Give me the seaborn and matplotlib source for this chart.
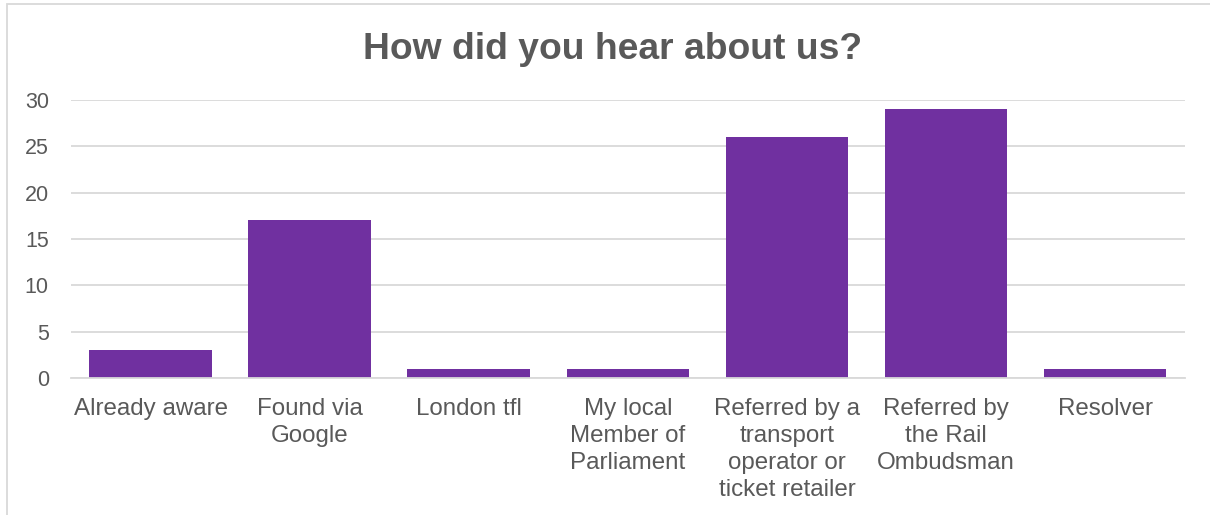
import matplotlib
matplotlib.use("Agg")
import matplotlib.pyplot as plt
import seaborn as sns
import pandas as pd
from matplotlib.patches import Rectangle

categories = [
    "Already aware",
    "Found via\nGoogle",
    "London tfl",
    "My local\nMember of\nParliament",
    "Referred by a\ntransport\noperator or\nticket retailer",
    "Referred by\nthe Rail\nOmbudsman",
    "Resolver",
]
counts = [3, 17, 1, 1, 26, 29, 1]
y_ticks = [0, 5, 10, 15, 20, 25, 30]

sns.set_theme(style="white")
plt.rcParams["font.family"] = ["Liberation Sans", "DejaVu Sans"]

text_color = "#595959"
grid_color = "#D9D9D9"
bar_color = "#7030A0"

df = pd.DataFrame({"source": categories, "count": counts})

fig = plt.figure(figsize=(12.1, 5.15), dpi=100)
ax = fig.add_axes([0.0587, 0.266, 0.9203, 0.540])

sns.barplot(data=df, x="source", y="count", color=bar_color, width=0.77,
            saturation=1, linewidth=0, ax=ax)

ax.set_ylim(0, 30)
ax.set_xlim(-0.5, len(categories) - 0.5)
ax.set_yticks(y_ticks)
ax.set_yticklabels([str(v) for v in y_ticks])
ax.yaxis.grid(True, color=grid_color, linewidth=1.3)
ax.set_axisbelow(True)
for side in ["left", "right", "top"]:
    ax.spines[side].set_visible(False)
ax.spines["bottom"].set_color(grid_color)
ax.spines["bottom"].set_linewidth(1.3)
ax.tick_params(axis="y", length=0, pad=16, labelsize=15.5, labelcolor=text_color)
ax.tick_params(axis="x", length=0, pad=14.5, labelsize=17.4, labelcolor=text_color)
for lbl in ax.get_xticklabels():
    lbl.set_linespacing(1.29)
    lbl.set_verticalalignment("top")
ax.set_xlabel("")
ax.set_ylabel("")

fig.text(0.506, 0.903, "How did you hear about us?", ha="center", va="center",
         fontsize=26.8, fontweight="bold", color=text_color)

# chart frame (left and top edges)
fig.patches.append(Rectangle((0.006, -0.01), 1.2, 1.002, transform=fig.transFigure,
                             fill=False, edgecolor=grid_color, linewidth=1.3))

fig.savefig("out.png", dpi=100)
